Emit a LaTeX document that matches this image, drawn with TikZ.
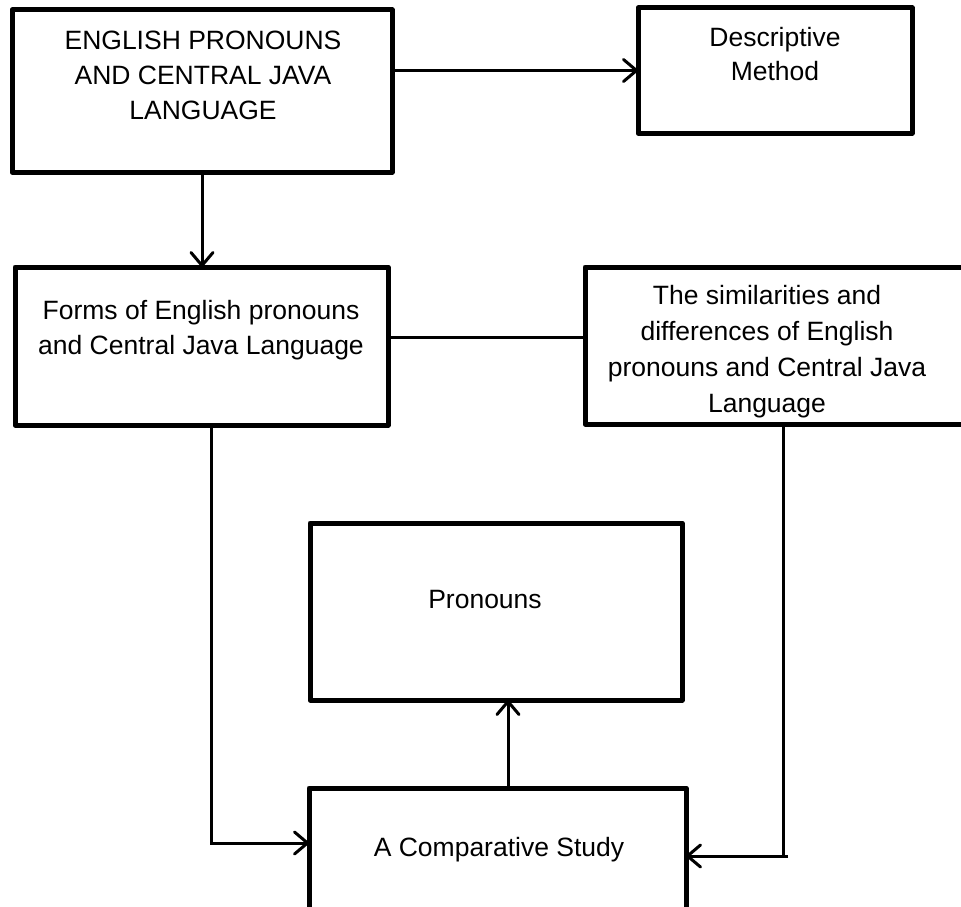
\documentclass[tikz,border=0pt]{standalone}
\usepackage{fontspec}
\setmainfont{Liberation Sans}
\usetikzlibrary{arrows.meta}
\begin{document}
\begin{tikzpicture}[x=1pt,y=-1pt,
  boxnode/.style={draw,line width=5pt,line join=round,inner sep=0pt,outer sep=0pt},
  txt/.style={inner sep=0pt,align=center,font=\fontsize{26.5}{35}\selectfont},
  conn/.style={line width=3pt},
  arr/.style={conn,-{Straight Barb[length=13pt,width=22pt,line cap=round,line join=round]}}]
\path[use as bounding box] (0,0) rectangle (961,907);
\clip (0,0) rectangle (961,907);
% boxes
\node[boxnode, minimum width=380pt, minimum height=162pt] (b1) at (202,91) {};
\node[boxnode, minimum width=274pt, minimum height=125pt] (b2) at (775,70.5) {};
\node[boxnode, minimum width=373pt, minimum height=158pt] (b3) at (201.5,346) {};
\node[boxnode, minimum width=415pt, minimum height=157pt] (b4) at (792.5,345.5) {};
\node[boxnode, minimum width=372pt, minimum height=177pt] (b5) at (496,611.5) {};
\node[boxnode, minimum width=377pt, minimum height=172pt] (b6) at (497.5,874) {};
% texts
\node[txt, anchor=north] (t1) at (203,30.5) {ENGLISH PRONOUNS\\AND CENTRAL JAVA\\LANGUAGE};
\node[txt, anchor=north, font=\fontsize{26.5}{34}\selectfont] (t2) at (775,27) {Descriptive\\Method};
\node[txt, anchor=north] (t3) at (201,300.5) {Forms of English pronouns\\and Central Java Language};
\node[txt, anchor=north, font=\fontsize{26.5}{36}\selectfont] (t4) at (767,285.5) {The similarities and\\differences of English\\pronouns and Central Java\\Language};
\node[txt, anchor=base] (t5) at (485,608) {Pronouns};
\node[txt, anchor=base] (t6) at (499,856) {A Comparative Study};
% connector points
\coordinate (l3) at (388,337);
\coordinate (leftdrop) at (211,425);
\coordinate (leftturn) at (211,843);
\coordinate (rightdrop) at (783,425);
\coordinate (rightturn) at (783,856);
\coordinate (rightend) at (788,856);
\coordinate (upstart) at (508,788);
% connectors
\draw[arr] (b2.west -| b1.east) -- (b2.west);
\draw[arr] (b1.south) -- (b1.south |- b3.north);
\draw[conn] (l3) -- (l3 -| b4.west);
\draw[arr] (leftdrop) -- (leftturn) -- (leftturn -| b6.west);
\draw[conn] (rightdrop) -- (rightturn);
\draw[arr] (rightend) -- (rightend -| b6.east);
\draw[arr] (upstart) -- (upstart |- b5.south);
\end{tikzpicture}
\end{document}
